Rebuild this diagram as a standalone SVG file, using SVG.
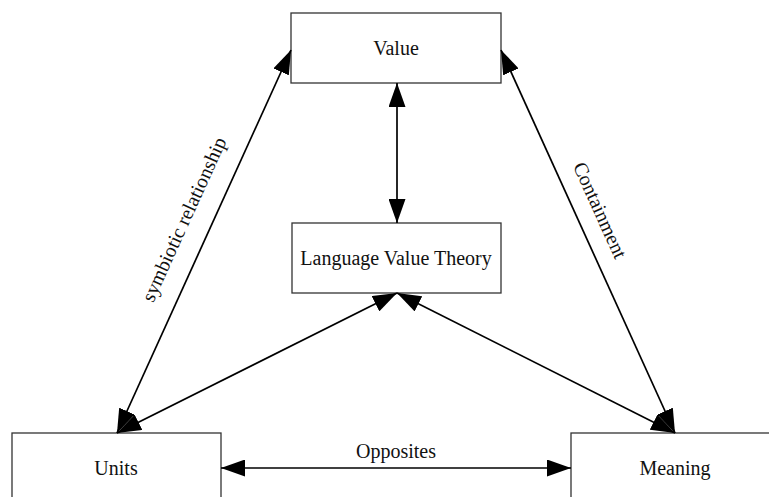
<svg xmlns="http://www.w3.org/2000/svg" width="769" height="497" viewBox="0 0 769 497">
<style>
.box{fill:#fff;stroke:#333;stroke-width:1.3}
.lbl{font-family:"Liberation Serif","Times New Roman",serif;font-size:20px;fill:#111;text-anchor:middle}
.conn{stroke:#000;stroke-width:1.7;fill:none;marker-start:url(#ah);marker-end:url(#ah)}
</style>
<defs>
<marker id="ah" viewBox="0 0 24 17" refX="24" refY="8.5" markerWidth="24" markerHeight="17" markerUnits="userSpaceOnUse" orient="auto-start-reverse">
<path d="M0,0 L24,8.5 L0,17 Z" fill="#000"/>
</marker>
</defs>
<rect width="769" height="497" fill="#fff"/>
<g id="value"><rect class="box" x="291" y="13" width="210" height="70"/><text class="lbl" x="396" y="55">Value</text></g>
<g id="lvt"><rect class="box" x="292" y="223" width="209" height="70"/><text class="lbl" x="396" y="265">Language Value Theory</text></g>
<g id="units"><rect class="box" x="12" y="433" width="209" height="70"/><text class="lbl" x="116" y="475">Units</text></g>
<g id="meaning"><rect class="box" x="571" y="433" width="209" height="70"/><text class="lbl" x="675" y="475">Meaning</text></g>
<g id="connectors">
<line class="conn" x1="397" y1="83" x2="397" y2="223"/>
<line class="conn" x1="117" y1="433" x2="291" y2="50"/>
<line class="conn" x1="675" y1="433" x2="501" y2="50"/>
<line class="conn" x1="397" y1="293" x2="117" y2="433"/>
<line class="conn" x1="397" y1="293" x2="675" y2="433"/>
<line class="conn" x1="221" y1="468" x2="571" y2="468"/>
<text class="lbl" x="396" y="458">Opposites</text>
<text class="lbl" transform="translate(190,222) rotate(-65.6)">symbiotic relationship</text>
<text class="lbl" transform="translate(594,213) rotate(65.6)">Containment</text>
</g>
</svg>
